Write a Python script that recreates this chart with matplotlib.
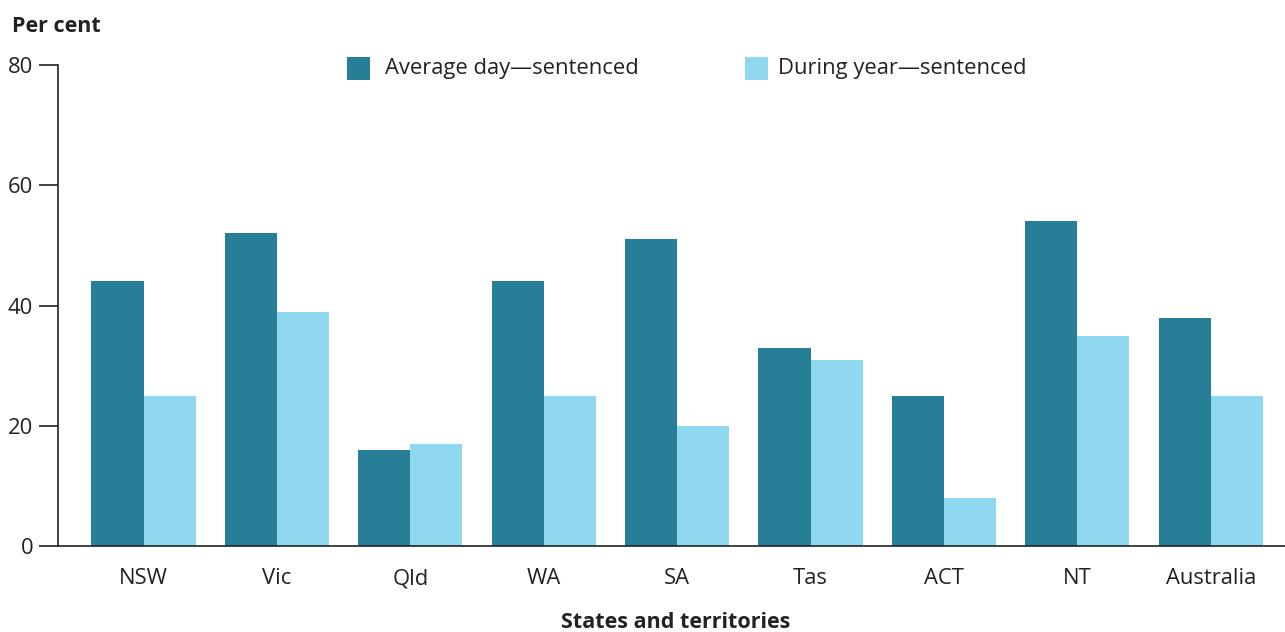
import matplotlib
matplotlib.use("Agg")
import matplotlib.pyplot as plt
import numpy as np
from matplotlib.patches import Rectangle

categories = ["NSW", "Vic", "Qld", "WA", "SA", "Tas", "ACT", "NT", "Australia"]
average_day = [44, 52, 16, 44, 51, 33, 25, 54, 38]
during_year = [25, 39, 17, 25, 20, 31, 8, 35, 25]
series_names = ["Average day\u2014sentenced", "During year\u2014sentenced"]
yticks = [0, 20, 40, 60, 80]

dark = "#267f96"
light = "#8fd8f0"
txt = "#222222"

plt.rcParams['font.family'] = ['Open Sans', 'DejaVu Sans']

W, H = 1285, 632
fig = plt.figure(figsize=(W/100, H/100), dpi=100)
ax = fig.add_axes([58/W, 1-546/H, (W-58)/W, (546-65)/H])

x = np.arange(len(categories))
w = 0.39
ax.bar(x - w/2, average_day, width=w, color=dark, label=series_names[0])
ax.bar(x + w/2, during_year, width=w, color=light, label=series_names[1])

ax.set_xlim(-0.641, len(categories) - 1 + 0.557)
ax.set_ylim(0, 80)
ax.set_yticks(yticks)
ax.set_xticks(x)
ax.set_xticklabels(categories)
ax.tick_params(axis='x', length=0, pad=16, labelsize=15.8, colors=txt)
ax.tick_params(axis='y', length=14, width=1.2, pad=4, labelsize=15.8, colors=txt)
for s in ['top', 'right']:
    ax.spines[s].set_visible(False)
for s in ['left', 'bottom']:
    ax.spines[s].set_color(txt)
    ax.spines[s].set_linewidth(1.2)

fig.text(12/W, 1-26/H, "Per cent", fontsize=15.5, fontweight='bold', color=txt, va='center', ha='left')
fig.text(676/W, 1-622/H, "States and territories", fontsize=15.5, fontweight='bold', color=txt, va='center', ha='center')

# legend drawn manually
legend_items = [(347, 385, dark, series_names[0]), (745, 778, light, series_names[1])]
for sx, tx, col, lab in legend_items:
    fig.add_artist(Rectangle((sx/W, 1-80/H), 23/W, 23/H, transform=fig.transFigure,
                             facecolor=col, edgecolor='none'))
    fig.text(tx/W, 1-68.5/H, lab, fontsize=15.8, color=txt, va='center', ha='left')

fig.savefig("out.png", dpi=100)
